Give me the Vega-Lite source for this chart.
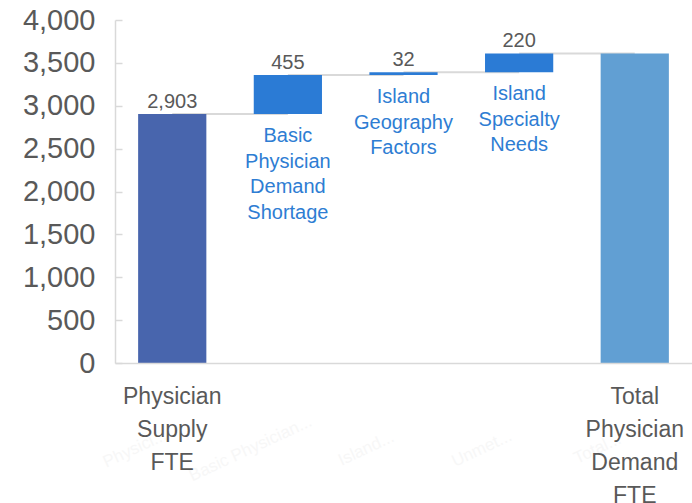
{
  "$schema": "https://vega.github.io/schema/vega-lite/v6.json",
  "width": 577,
  "height": 343,
  "autosize": {"type": "none"},
  "padding": {"left": 115, "top": 20, "right": 0, "bottom": 140},
  "background": "white",
  "config": {
    "view": {"stroke": null},
    "font": "Liberation Sans"
  },
  "data": {
    "values": [
      {"cat": "Physician Supply FTE", "next": "Basic Physician Demand Shortage", "start": 0, "end": 2903, "vlabel": "2,903", "kind": "supply", "blue": "", "ghost": "Physici..."},
      {"cat": "Basic Physician Demand Shortage", "next": "Island Geography Factors", "start": 2903, "end": 3358, "vlabel": "455", "kind": "delta", "blue": "Basic\nPhysician\nDemand\nShortage", "ghost": "Basic Physician..."},
      {"cat": "Island Geography Factors", "next": "Island Specialty Needs", "start": 3358, "end": 3390, "vlabel": "32", "kind": "delta", "blue": "Island\nGeography\nFactors", "ghost": "Island..."},
      {"cat": "Island Specialty Needs", "next": "Total Physician Demand FTE", "start": 3390, "end": 3610, "vlabel": "220", "kind": "delta", "blue": "Island\nSpecialty\nNeeds", "ghost": "Unmet..."},
      {"cat": "Total Physician Demand FTE", "next": null, "start": 0, "end": 3610, "vlabel": "", "kind": "total", "blue": "", "ghost": "Total..."}
    ]
  },
  "encoding": {
    "x": {
      "field": "cat",
      "type": "nominal",
      "sort": ["Physician Supply FTE", "Basic Physician Demand Shortage", "Island Geography Factors", "Island Specialty Needs", "Total Physician Demand FTE"],
      "scale": {"paddingInner": 0.41, "paddingOuter": 0.2},
      "title": null,
      "axis": {
        "labelAngle": 0,
        "labelExpr": "(datum.value == 'Physician Supply FTE' || datum.value == 'Total Physician Demand FTE') ? split(datum.value, ' ') : ''",
        "labelFontSize": 23,
        "labelColor": "#595959",
        "labelLineHeight": 33,
        "labelPadding": 22,
        "labelBaseline": "top",
        "ticks": false,
        "domainColor": "#d9d9d9",
        "domainWidth": 1.5,
        "labelFont": "Liberation Sans",
        "zindex": 1
      }
    }
  },
  "layer": [
    {
      "mark": {"type": "text", "angle": -25, "dx": -70, "dy": 62, "fontSize": 17, "color": "#f7f7f7"},
      "encoding": {
        "y": {"datum": 0, "type": "quantitative"},
        "text": {"field": "ghost"}
      }
    },
    {
      "transform": [{"filter": "datum.next != null"}],
      "mark": {"type": "rule", "color": "#d9d9d9", "strokeWidth": 2},
      "encoding": {
        "y": {"field": "end", "type": "quantitative"},
        "x2": {"field": "next"}
      }
    },
    {
      "mark": {"type": "bar"},
      "encoding": {
        "y": {
          "field": "start",
          "type": "quantitative",
          "scale": {"domain": [0, 4000], "nice": false},
          "title": null,
          "axis": {
            "values": [0, 500, 1000, 1500, 2000, 2500, 3000, 3500, 4000],
            "format": ",.0f",
            "grid": false,
            "domainColor": "#d9d9d9",
            "domainWidth": 1.5,
            "tickColor": "#d9d9d9",
            "tickWidth": 1.5,
            "tickSize": -7,
            "labelPadding": 27,
            "labelFontSize": 29,
            "labelColor": "#595959",
            "labelFont": "Liberation Sans"
          }
        },
        "y2": {"field": "end"},
        "color": {
          "field": "kind",
          "type": "nominal",
          "scale": {"domain": ["supply", "delta", "total"], "range": ["#4865ad", "#2b7bd5", "#619fd3"]},
          "legend": null
        }
      }
    },
    {
      "mark": {"type": "text", "baseline": "bottom", "dy": -2, "fontSize": 20, "color": "#595959"},
      "encoding": {
        "y": {"field": "end", "type": "quantitative"},
        "text": {"field": "vlabel"}
      }
    },
    {
      "mark": {"type": "text", "baseline": "top", "dy": 12, "fontSize": 20, "lineHeight": 25.5, "lineBreak": "\n", "color": "#2e7dd3"},
      "encoding": {
        "y": {"field": "start", "type": "quantitative"},
        "text": {"field": "blue"}
      }
    }
  ]
}
